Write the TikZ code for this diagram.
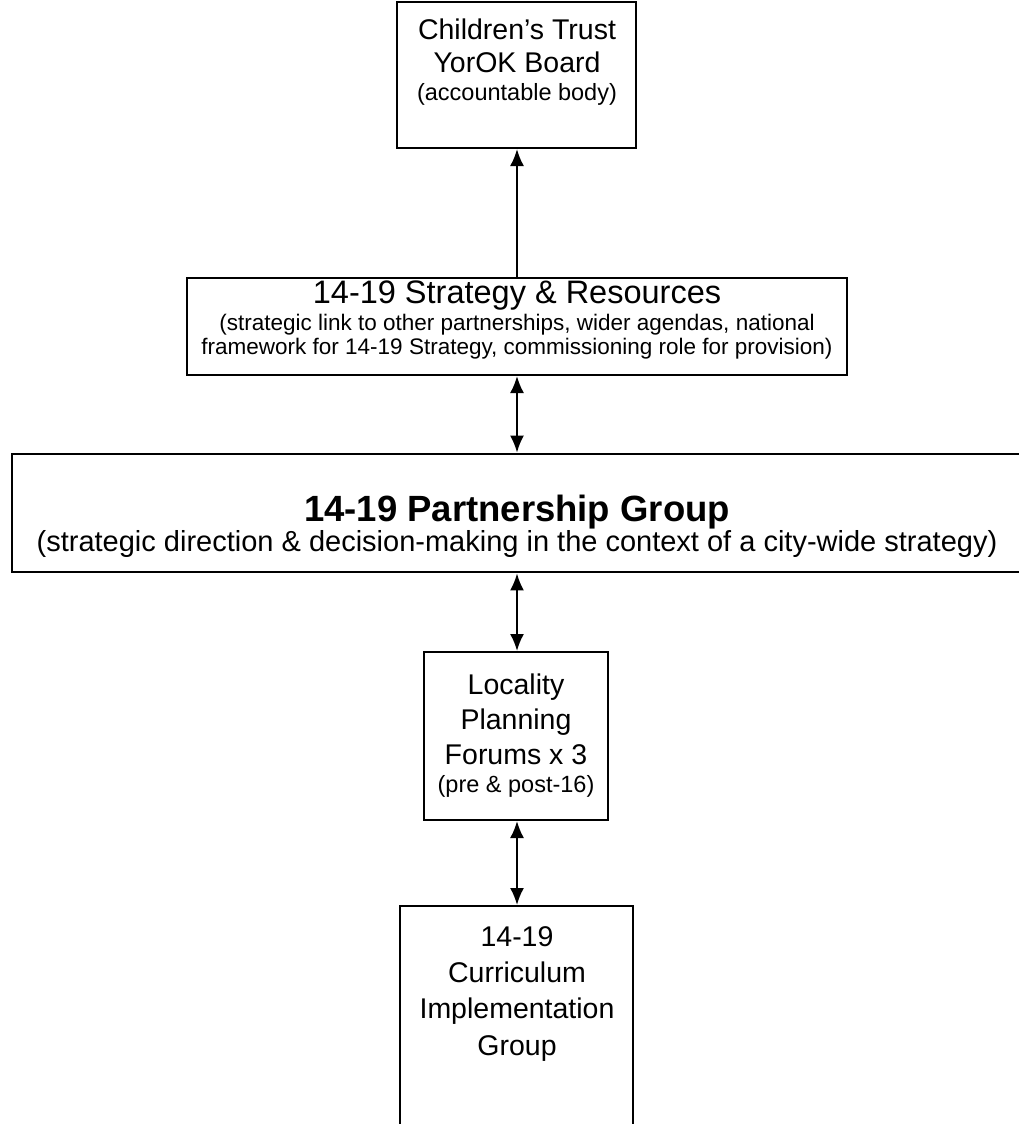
\documentclass[tikz,border=0pt]{standalone}
\usepackage{fontspec}
\setmainfont{Liberation Sans}
\usetikzlibrary{arrows.meta}
\begin{document}
\begin{tikzpicture}[x=1pt,y=-1pt,
  box/.style={draw, line width=2pt, inner sep=0pt, fill=none},
  both/.style={line width=2pt, {Latex[length=17pt,width=14pt]}-{Latex[length=17pt,width=14pt]}},
  upward/.style={line width=2pt, -{Latex[length=17pt,width=14pt]}},
  ttl/.style={font=\fontsize{28.5}{33}\selectfont, inner sep=0pt, anchor=base},
  big/.style={font=\fontsize{32.5}{38}\selectfont, inner sep=0pt, anchor=base},
  sub/.style={font=\fontsize{23.5}{27}\selectfont, inner sep=0pt, anchor=base},
  subb/.style={font=\fontsize{22.5}{26}\selectfont, inner sep=0pt, anchor=base},
  wide/.style={font=\fontsize{29}{33}\selectfont, inner sep=0pt, anchor=base},
  bold/.style={font=\fontsize{36.5}{42}\bfseries\selectfont, inner sep=0pt, anchor=base},
]
\useasboundingbox (0,0) rectangle (1019,1124);
\fill[white] (0,0) rectangle (1019,1124);

% boxes
\node[box, minimum width=239pt, minimum height=146pt] (b1) at (516.5,75) {};
\node[box, minimum width=660pt, minimum height=97pt] (b2) at (517,326.5) {};
\node[box, line width=2.8pt, minimum width=1030pt, minimum height=118pt] (b3) at (527,513) {};
\node[box, minimum width=184pt, minimum height=168pt] (b4) at (516,736) {};
\node[box, minimum width=233pt, minimum height=240pt] (b5) at (516.5,1026) {};

% texts
\node[ttl] (t1a) at (517,40) {Children’s Trust};
\node[ttl] (t1b) at (517,72) {YorOK Board};
\node[sub] (t1c) at (517,100) {(accountable body)};

\node[big] (t2a) at (517,303) {14-19 Strategy \& Resources};
\node[subb] (t2b) at (517,330) {(strategic link to other partnerships, wider agendas, national};
\node[subb] (t2c) at (517,354) {framework for 14-19 Strategy, commissioning role for provision)};

\node[bold] (t3a) at (517,521) {14-19 Partnership Group};
\node[wide] (t3b) at (517,551) {(strategic direction \& decision-making in the context of a city-wide strategy)};

\node[ttl] (t4a) at (516,694) {Locality};
\node[ttl] (t4b) at (516,729) {Planning};
\node[ttl] (t4c) at (516,764) {Forums x 3};
\node[sub] (t4d) at (516,792) {(pre \& post-16)};

\node[ttl] (t5a) at (517,946) {14-19};
\node[ttl] (t5b) at (517,982) {Curriculum};
\node[ttl] (t5c) at (517,1018) {Implementation};
\node[ttl] (t5d) at (517,1055) {Group};

% connectors
\draw[upward] (b2.north) -- (b2.north |- b1.south);
\draw[both] (b2.south) -- (b2.south |- b3.north);
\draw[both] (b2.south |- b3.south) -- (b2.south |- b4.north);
\draw[both] (b2.south |- b4.south) -- (b2.south |- b5.north);
\end{tikzpicture}
\end{document}
